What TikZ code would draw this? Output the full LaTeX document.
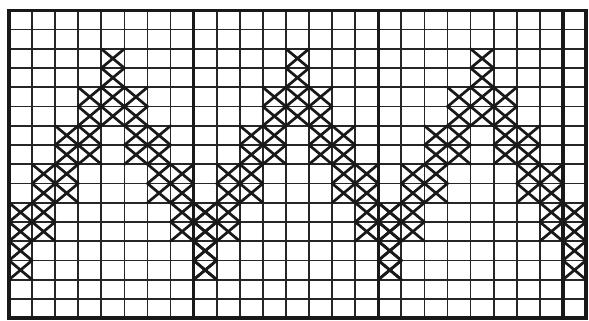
\documentclass[tikz,border=0pt]{standalone}
\usepackage{tikz}

\begin{document}
\begin{tikzpicture}[x=0.6cm, y=0.5cm,
  gridline/.style={line width=1.3pt, black!85},
  panel/.style={line width=2.4pt, black!90},
  stitch/.style={line width=2pt, black!90, line cap=round},
]
\useasboundingbox (-0.39,-0.1) rectangle (25.13,16.54);
% chart grid, 25 columns by 16 rows
\foreach \x in {1,...,24}
  \draw[gridline] (\x,0) -- (\x,16);
\foreach \y in {1,...,15}
  \draw[gridline] (0,\y) -- (25,\y);
\foreach \x in {0,8,16,24}
  \draw[panel] (\x,0) -- (\x,16);
\draw[panel] (0,0) rectangle (25,16);
% zigzag band of cross stitches, two rows per step
\foreach \c in {4,12,20}
  \foreach \r/\offs in {2/{0}, 4/{-1,0,1}, 6/{-2,-1,1,2},
                        8/{-3,-2,2,3}, 10/{-4,-3,3,4}, 12/{-4,4}}
    \foreach \o in \offs
      \foreach \k in {0,1}
        \draw[stitch] ({\c+\o},{15-\r-\k}) -- ++(1,1)
                      ({\c+\o},{16-\r-\k}) -- ++(1,-1);
\end{tikzpicture}
\end{document}
